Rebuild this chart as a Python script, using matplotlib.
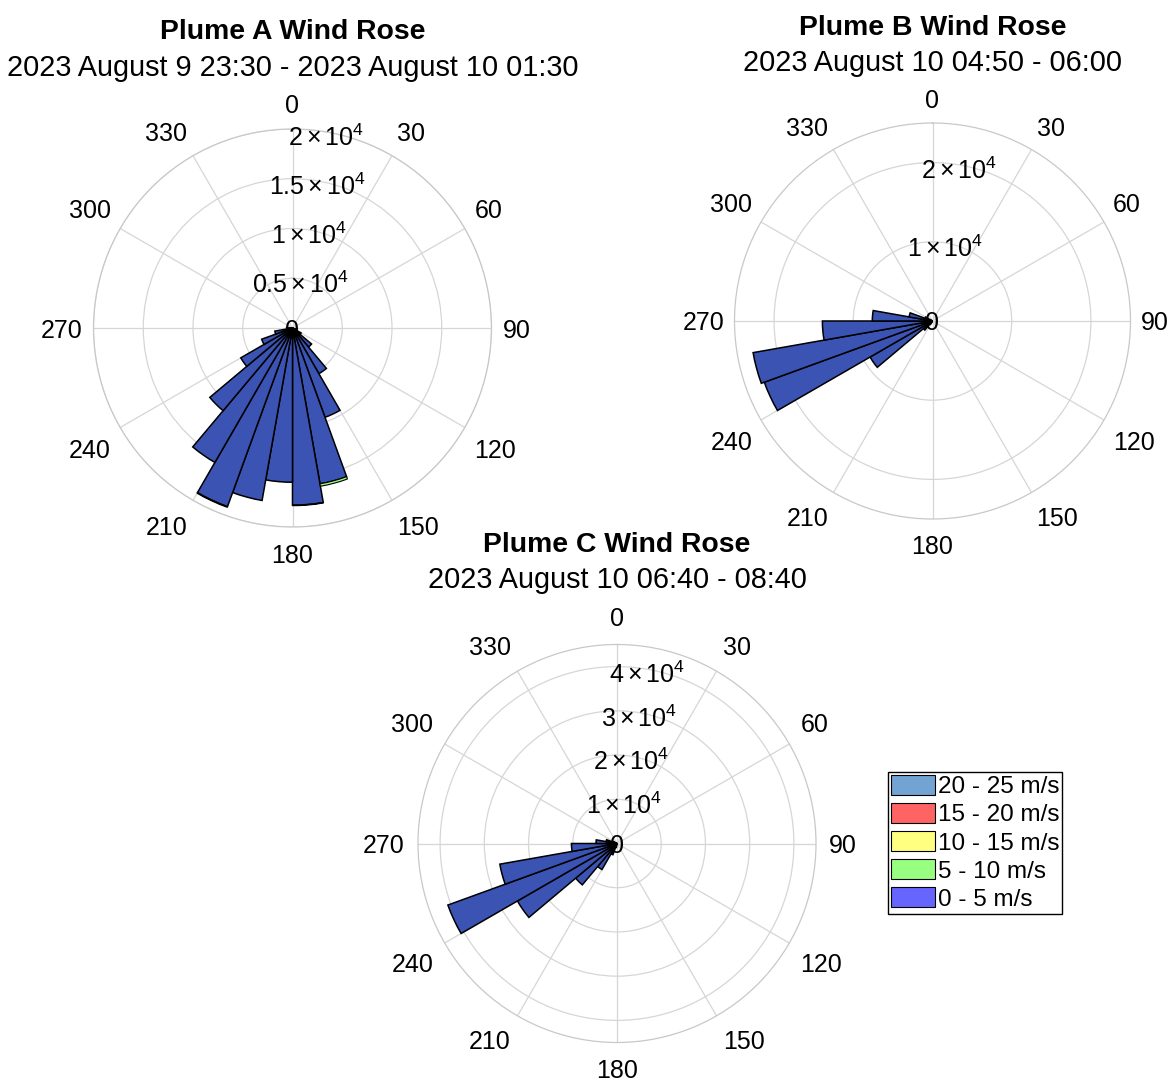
import matplotlib
matplotlib.use('Agg')
import matplotlib.pyplot as plt
import matplotlib.transforms as mtransforms
import numpy as np
from matplotlib.patches import Patch

plt.rcParams['font.family'] = ['Liberation Sans', 'DejaVu Sans']
plt.rcParams['mathtext.fontset'] = 'custom'
plt.rcParams['mathtext.rm'] = 'Liberation Sans'
plt.rcParams['mathtext.it'] = 'Liberation Sans:italic'
plt.rcParams['mathtext.bf'] = 'Liberation Sans:bold'

# ---------------- data ----------------
# bin start directions (deg, clockwise from north), 10-degree bins
dirs_A = [110, 120, 130, 140, 150, 160, 170, 180, 190, 200, 210, 220, 230, 240, 250, 260]
A_0_5 = [400, 1000, 2500, 5300, 9550, 15900, 17800, 15500, 17600, 19100, 15600, 10850, 6000, 3300, 1800, 600]
A_5_10 = [0, 0, 0, 0, 0, 250, 60, 0, 0, 80, 0, 0, 0, 0, 0, 0]

dirs_B = [210, 220, 230, 240, 250, 260, 270, 280, 290]
B_0_5 = [500, 1500, 9100, 22600, 23000, 13900, 7600, 3000, 1000]
B_5_10 = [0, 0, 0, 0, 0, 0, 0, 0, 0]

dirs_C = [190, 200, 210, 220, 230, 240, 250, 260, 270, 280, 290]
C_0_5 = [900, 2700, 6800, 12200, 26000, 40700, 26900, 10300, 4750, 2500, 900]
C_5_10 = [0, 0, 0, 0, 0, 0, 0, 0, 0, 0, 0]

rings_A = [5000, 10000, 15000, 20000]
ring_labels_A = [r'$\mathregular{0.5\times10^{4}}$', r'$\mathregular{1\times10^{4}}$',
                 r'$\mathregular{1.5\times10^{4}}$', r'$\mathregular{2\times10^{4}}$']
rmax_A = 20000
rings_B = [10000, 20000]
ring_labels_B = [r'$\mathregular{1\times10^{4}}$', r'$\mathregular{2\times10^{4}}$']
rmax_B = 25000
rings_C = [10000, 20000, 30000, 40000]
ring_labels_C = [r'$\mathregular{1\times10^{4}}$', r'$\mathregular{2\times10^{4}}$',
                 r'$\mathregular{3\times10^{4}}$', r'$\mathregular{4\times10^{4}}$']
rmax_C = 45000

angle_ticks = list(range(0, 360, 30))
angle_labels = [str(a) for a in angle_ticks]
legend_labels = ['20 - 25 m/s', '15 - 20 m/s', '10 - 15 m/s', '5 - 10 m/s', '0 - 5 m/s']
legend_colors = ['#73a3d3', '#ff6464', '#ffff80', '#99ff80', '#6666ff']

bar_blue = '#3b54b3'
green = '#99ff80'
grid_col = '#d6d6d6'

W, H = 1172, 1083
fig = plt.figure(figsize=(W / 100, H / 100), dpi=100)


def rose(cx, cy, R, dpx, low_shift, dirs, v05, v510, rings, rlabels, rmax, title, subtitle, ty, sy):
    ax = fig.add_axes([(cx - R) / W, (H - cy - R) / H, 2 * R / W, 2 * R / H], projection='polar')
    ax.set_theta_zero_location('N')
    ax.set_theta_direction(-1)
    ax.set_ylim(0, rmax)
    ax.set_xticks(np.deg2rad(angle_ticks))
    ax.set_xticklabels([])
    ax.set_yticks(rings)
    ax.set_yticklabels([])
    ax.grid(True, color=grid_col, lw=0.9)
    ax.spines['polar'].set_color('#c8c8c8')
    ax.spines['polar'].set_linewidth(0.9)
    ax.set_axisbelow(True)
    theta = np.deg2rad(np.array(dirs) + 5.0)
    width = np.deg2rad(10.0)
    v05 = np.array(v05, dtype=float)
    v510 = np.array(v510, dtype=float)
    ax.bar(theta, v05, width=width, bottom=0, color=bar_blue, edgecolor='black', linewidth=1.1, zorder=3)
    m = v510 > 0
    if m.any():
        ax.bar(theta[m], v510[m], width=width, bottom=v05[m], color=green, edgecolor='black',
               linewidth=0.8, zorder=3)
    # ring labels
    for rv, lab in zip(rings, rlabels):
        ax.text(np.deg2rad(10), rv - 0.028 * rmax, lab, ha='center', va='center',
                fontsize=18, zorder=6)
    ax.text(0, 0, '0', ha='center', va='center_baseline', fontsize=18, zorder=6)
    # angle labels anchored on a circle just outside the plot, aligned away from it
    r_lab = dpx / R * rmax
    down = mtransforms.offset_copy(ax.transData, fig=fig, x=0, y=-low_shift, units='dots')
    for a, lab in zip(angle_ticks, angle_labels):
        s, c = np.sin(np.deg2rad(a)), np.cos(np.deg2rad(a))
        ha = 'left' if s > 1e-6 else ('right' if s < -1e-6 else 'center')
        va = 'bottom' if c > 1e-6 else ('top' if c < -1e-6 else 'center_baseline')
        tr = down if c < -1e-6 else ax.transData
        ax.text(np.deg2rad(a), r_lab, lab, ha=ha, va=va, fontsize=18, clip_on=False, transform=tr)
    fig.text(cx / W, 1 - ty / H, title, ha='center', va='baseline', fontsize=20.4, fontweight='bold')
    fig.text(cx / W, 1 - sy / H, subtitle, ha='center', va='baseline', fontsize=20.8)
    return ax


rose(292.5, 328, 199, 210, 6, dirs_A, A_0_5, A_5_10, rings_A, ring_labels_A, rmax_A,
     'Plume A Wind Rose', '2023 August 9 23:30 - 2023 August 10 01:30', 39, 76)
rose(932.5, 321, 198, 208, 6, dirs_B, B_0_5, B_5_10, rings_B, ring_labels_B, rmax_B,
     'Plume B Wind Rose', '2023 August 10 04:50 - 06:00', 35, 71)
rose(617, 843.5, 199, 212, 3, dirs_C, C_0_5, C_5_10, rings_C, ring_labels_C, rmax_C,
     'Plume C Wind Rose', '2023 August 10 06:40 - 08:40', 552, 588)

handles = [Patch(facecolor=c, edgecolor='black', linewidth=0.8, label=l)
           for c, l in zip(legend_colors, legend_labels)]
leg = fig.legend(handles=handles, loc='upper left', bbox_to_anchor=(888 / W, 1 - 772 / H),
                 frameon=True, fancybox=False, edgecolor='black', framealpha=1, fontsize=17.5,
                 handlelength=1.8, handleheight=0.9, handletextpad=0.12, labelspacing=0.19,
                 borderpad=0.12, borderaxespad=0)
leg.get_frame().set_linewidth(1.0)

fig.savefig('out.png', dpi=100)
